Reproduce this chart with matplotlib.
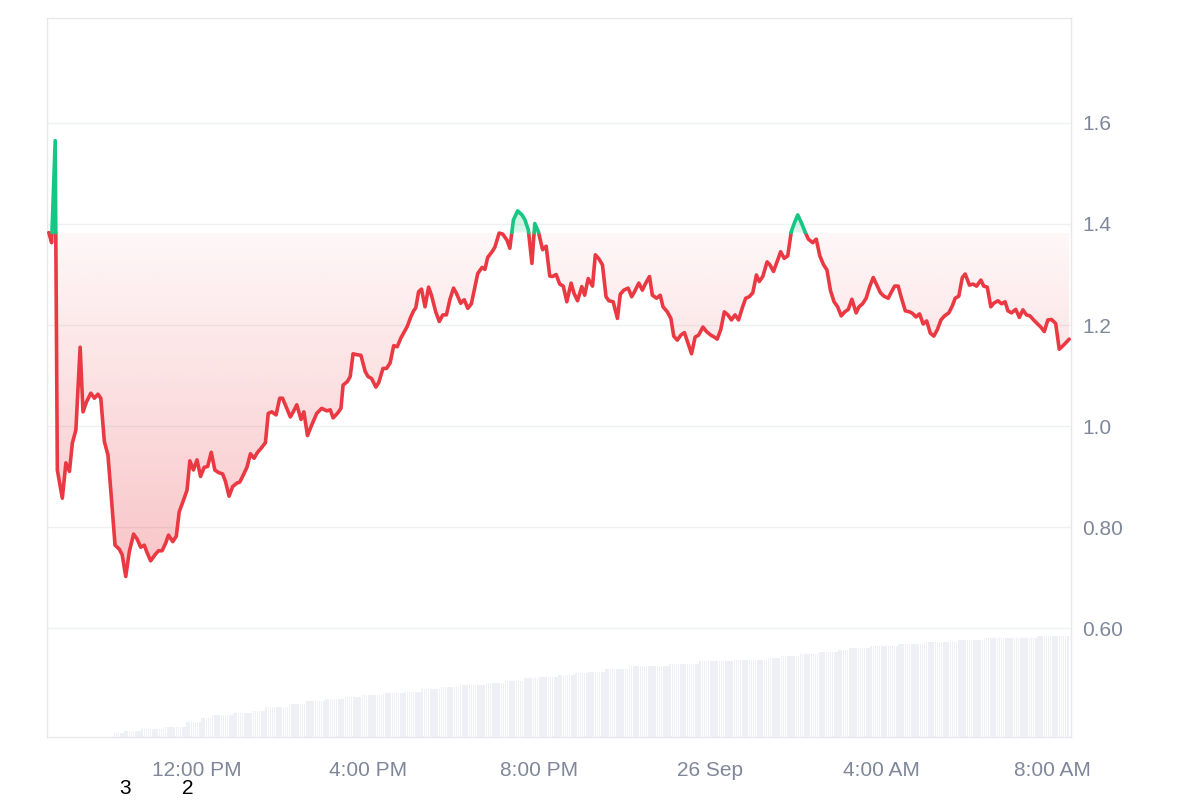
import numpy as np
import matplotlib
matplotlib.use('Agg')
import matplotlib.pyplot as plt
import matplotlib.dates as mdates
from matplotlib.colors import to_rgb
from matplotlib.patches import PathPatch
from matplotlib.path import Path

plt.rcParams['font.family'] = ['Liberation Sans', 'DejaVu Sans']

# price points: minutes after 00:00 on 25 Sep, price in USD
minutes = [512, 516, 521, 524, 531, 536, 541, 545, 550, 556, 560, 565, 571, 576, 581, 585, 590, 595, 599,
           605, 611, 615, 620, 625, 631, 636, 641, 646, 650, 655, 661, 666, 671, 676, 680, 686, 691, 695,
           701, 706, 710, 715, 720, 725, 730, 735, 740, 745, 750, 756, 760, 765, 770, 776, 780, 785, 790,
           795, 800, 805, 810, 816, 820, 825, 831, 836, 840, 846, 851, 855, 860, 866, 870, 875, 881, 888,
           895, 902, 907, 911, 917, 922, 925, 931, 935, 939, 945, 950, 956, 960, 965, 971, 975, 981, 986,
           991, 996, 1001, 1006, 1011, 1015, 1020, 1024, 1027, 1031, 1035, 1040, 1045, 1049, 1055, 1060,
           1065, 1070, 1075, 1080, 1084, 1090, 1095, 1100, 1105, 1109, 1114, 1120, 1124, 1128, 1134, 1138,
           1144, 1149, 1155, 1159, 1164, 1170, 1176, 1180, 1185, 1190, 1194, 1199, 1205, 1210, 1215, 1219,
           1224, 1229, 1234, 1239, 1245, 1249, 1254, 1260, 1264, 1269, 1275, 1279, 1284, 1289, 1294, 1298,
           1304, 1310, 1314, 1319, 1325, 1330, 1334, 1340, 1345, 1349, 1355, 1359, 1365, 1370, 1374, 1380,
           1385, 1389, 1394, 1399, 1404, 1409, 1414, 1419, 1424, 1430, 1435, 1441, 1446, 1450, 1455, 1460,
           1465, 1470, 1475, 1480, 1485, 1490, 1495, 1500, 1505, 1509, 1514, 1520, 1524, 1529, 1535, 1539,
           1544, 1549, 1554, 1558, 1563, 1568, 1573, 1578, 1584, 1589, 1594, 1599, 1604, 1609, 1614, 1619,
           1624, 1629, 1634, 1639, 1645, 1649, 1654, 1659, 1664, 1669, 1674, 1679, 1684, 1690, 1694, 1699,
           1704, 1708, 1714, 1720, 1724, 1729, 1734, 1739, 1744, 1749, 1754, 1759, 1764, 1769, 1775, 1780,
           1784, 1789, 1794, 1798, 1804, 1809, 1814, 1820, 1824, 1829, 1834, 1838, 1844, 1849, 1854, 1858,
           1863, 1869, 1874, 1879, 1884, 1889, 1894, 1899, 1904, 1909, 1914, 1919, 1925, 1930, 1936, 1944]
prices = [1.383, 1.363, 1.565, 0.913, 0.857, 0.927, 0.910, 0.966, 0.992, 1.156, 1.028, 1.048, 1.065, 1.055,
          1.063, 1.055, 0.969, 0.943, 0.873, 0.764, 0.756, 0.745, 0.702, 0.751, 0.786, 0.776, 0.760, 0.764,
          0.749, 0.733, 0.745, 0.753, 0.753, 0.768, 0.784, 0.771, 0.782, 0.830, 0.853, 0.873, 0.931, 0.913,
          0.933, 0.900, 0.918, 0.920, 0.948, 0.913, 0.908, 0.905, 0.890, 0.861, 0.880, 0.887, 0.889, 0.903,
          0.918, 0.945, 0.936, 0.948, 0.956, 0.967, 1.025, 1.028, 1.022, 1.055, 1.055, 1.035, 1.018, 1.028,
          1.042, 1.013, 1.028, 0.981, 1.002, 1.025, 1.035, 1.030, 1.032, 1.016, 1.025, 1.035, 1.081, 1.088,
          1.098, 1.143, 1.141, 1.140, 1.108, 1.098, 1.094, 1.077, 1.086, 1.114, 1.114, 1.125, 1.159, 1.157,
          1.174, 1.187, 1.197, 1.216, 1.228, 1.234, 1.266, 1.271, 1.236, 1.275, 1.259, 1.226, 1.207, 1.220,
          1.220, 1.251, 1.273, 1.263, 1.243, 1.250, 1.233, 1.242, 1.269, 1.302, 1.314, 1.310, 1.334, 1.345,
          1.354, 1.382, 1.380, 1.368, 1.352, 1.408, 1.426, 1.418, 1.409, 1.388, 1.322, 1.401, 1.385, 1.349,
          1.356, 1.297, 1.296, 1.300, 1.281, 1.277, 1.246, 1.283, 1.263, 1.248, 1.276, 1.259, 1.292, 1.277,
          1.339, 1.331, 1.319, 1.256, 1.248, 1.246, 1.213, 1.261, 1.269, 1.273, 1.256, 1.266, 1.283, 1.269,
          1.281, 1.296, 1.259, 1.253, 1.259, 1.236, 1.226, 1.213, 1.178, 1.170, 1.180, 1.185, 1.164, 1.143,
          1.176, 1.180, 1.196, 1.187, 1.180, 1.176, 1.172, 1.191, 1.226, 1.220, 1.210, 1.220, 1.210, 1.233,
          1.253, 1.256, 1.264, 1.299, 1.286, 1.296, 1.325, 1.319, 1.306, 1.329, 1.345, 1.332, 1.337, 1.385,
          1.401, 1.418, 1.403, 1.385, 1.370, 1.363, 1.370, 1.337, 1.320, 1.309, 1.268, 1.246, 1.236, 1.218,
          1.226, 1.231, 1.251, 1.224, 1.236, 1.242, 1.253, 1.276, 1.294, 1.279, 1.264, 1.257, 1.253, 1.264,
          1.277, 1.277, 1.256, 1.228, 1.226, 1.223, 1.216, 1.222, 1.202, 1.208, 1.184, 1.178, 1.191, 1.210,
          1.218, 1.224, 1.238, 1.253, 1.257, 1.294, 1.301, 1.279, 1.281, 1.277, 1.289, 1.277, 1.275, 1.236,
          1.243, 1.248, 1.242, 1.246, 1.228, 1.224, 1.231, 1.215, 1.230, 1.220, 1.218, 1.210, 1.203, 1.196,
          1.187, 1.210, 1.211, 1.203, 1.152, 1.160, 1.172]

# volume (thousand USD), 3-minute bars from 10:03, stored as runs of equal bars
vol_start = 603
vol_step = 3
vol_levels = [43, 60, 77, 100, 150, 187, 217, 240, 260, 303, 333, 360, 383, 400, 420, 437, 453, 477, 500,
              520, 537, 560, 587, 603, 620, 637, 650, 683, 710, 727, 757, 773, 790, 807, 827, 850, 870,
              887, 910, 927, 950, 967, 990, 1007]
vol_counts = [5, 8, 11, 10, 7, 5, 10, 9, 6, 11, 8, 9, 9, 8, 10, 10, 8, 9, 9, 12, 9, 9, 7, 9, 8, 6, 8,
              11, 19, 14, 16, 16, 6, 9, 9, 9, 5, 10, 13, 12, 16, 12, 25, 15]

ytick_vals = [0.6, 0.8, 1.0, 1.2, 1.4, 1.6]
ytick_labels = ['0.60', '0.80', '1.0', '1.2', '1.4', '1.6']

RED = '#ea3943'
GREEN = '#16c784'
GRAY = '#7f8799'

day0 = mdates.date2num(np.datetime64('2024-09-25T00:00'))
t = day0 + np.array(minutes) / 1440.0
p = np.array(prices)
base = p[0]

# add baseline crossing points so the line can change colour exactly there
xs, ys = [t[0]], [p[0]]
for i in range(1, len(p)):
    y0, y1 = p[i - 1], p[i]
    if (y0 - base) * (y1 - base) < 0:
        f = (base - y0) / (y1 - y0)
        xs.append(t[i - 1] + f * (t[i] - t[i - 1]))
        ys.append(base)
    xs.append(t[i])
    ys.append(p[i])
xs, ys = np.array(xs), np.array(ys)

fig = plt.figure(figsize=(12, 8), dpi=100)
ax = fig.add_axes([47 / 1200, 63 / 800, 1024 / 1200, 719 / 800])


def gradient_fill(ax, x, y, base, color, below, a_base, a_far):
    if below:
        coll = ax.fill_between(x, y, base, where=y <= base, interpolate=True, color='none', lw=0)
        lo, hi = y.min(), base
        alphas = np.linspace(a_far, a_base, 256)
    else:
        coll = ax.fill_between(x, y, base, where=y >= base, interpolate=True, color='none', lw=0)
        lo, hi = base, y.max()
        alphas = np.linspace(a_base, a_far, 256)
    img = np.zeros((256, 1, 4))
    img[..., :3] = to_rgb(color)
    img[:, 0, 3] = alphas
    im = ax.imshow(img, extent=[x[0], x[-1], lo, hi], origin='lower', aspect='auto',
                   zorder=1, interpolation='bilinear')
    patch = PathPatch(Path.make_compound_path(*coll.get_paths()), transform=ax.transData,
                      facecolor='none', edgecolor='none')
    ax.add_patch(patch)
    im.set_clip_path(patch)


gradient_fill(ax, xs, ys, base, RED, True, 0.04, 0.30)
gradient_fill(ax, xs, ys, base, GREEN, False, 0.15, 0.45)

red_line = np.ma.masked_where(ys > base, ys)
green_line = np.ma.masked_where(ys < base, ys)
ax.plot(xs, red_line, color=RED, lw=2.6, zorder=3, solid_joinstyle='round', solid_capstyle='round')
ax.plot(xs, green_line, color=GREEN, lw=2.6, zorder=3, solid_joinstyle='round', solid_capstyle='round')

# volume bars on a hidden twin axis
vol = np.repeat(vol_levels, vol_counts)
vt = day0 + (vol_start + vol_step * np.arange(len(vol))) / 1440.0
vax = ax.twinx()
vax.bar(vt, vol, width=vol_step / 1440.0 * 0.7, align='edge', color='#eef0f5', lw=0)
vax.set_ylim(0, max(vol_levels) * 7.14)
vax.axis('off')

ax.set_xlim(day0 + 509.5 / 1440, day0 + 1946.5 / 1440)
ax.set_ylim(0.3842, 1.8079)

ax.yaxis.tick_right()
ax.set_yticks(ytick_vals)
ax.set_yticklabels(ytick_labels)
ax.xaxis.set_major_locator(mdates.HourLocator(byhour=[0, 4, 8, 12, 16, 20]))


def fmt_time(x, pos=None):
    d = mdates.num2date(x)
    if d.hour == 0:
        return f"{d.day} {d:%b}"
    return f"{d.hour % 12 or 12}:{d:%M} {d:%p}"


ax.xaxis.set_major_formatter(plt.FuncFormatter(fmt_time))
ax.tick_params(axis='y', length=0, pad=8, labelsize=15, labelcolor=GRAY)
ax.tick_params(axis='x', length=0, pad=17, labelsize=15, labelcolor=GRAY)
ax.grid(axis='y', color='#eef0f3', lw=1)
ax.set_axisbelow(True)
for s in ax.spines.values():
    s.set_color('#e6e8ec')
    s.set_linewidth(1)

fig.text(125 / 1200, 1 - 789 / 800, '3', ha='center', va='center', fontsize=15, color='black')
fig.text(188 / 1200, 1 - 789 / 800, '2', ha='center', va='center', fontsize=15, color='black')

fig.savefig('out.png', dpi=100)
